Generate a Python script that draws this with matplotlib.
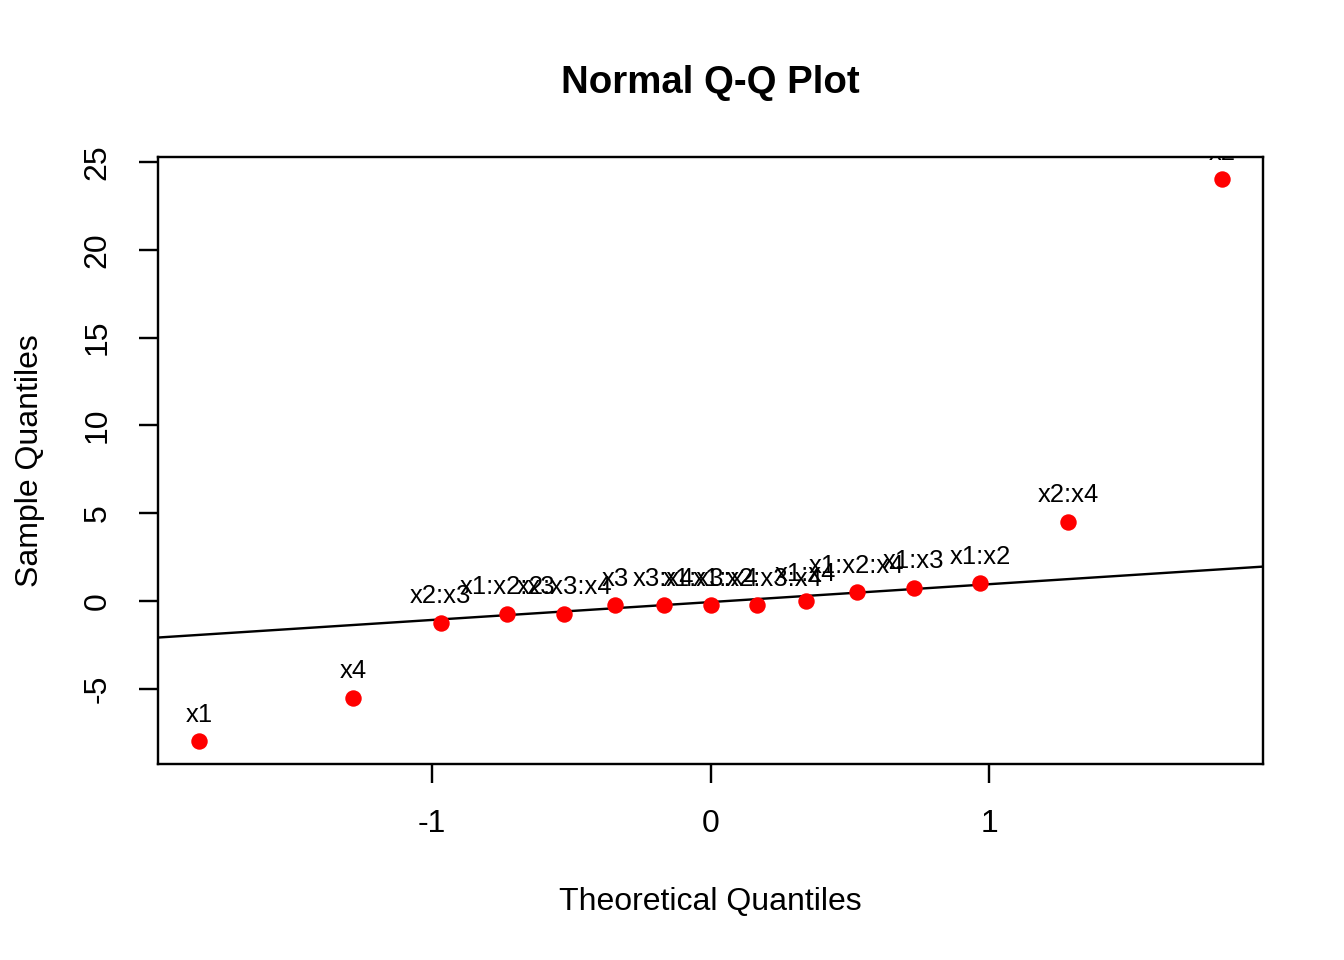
import numpy as np
import matplotlib.pyplot as plt
from statistics import NormalDist

plt.rcParams['font.family'] = ['Liberation Sans', 'DejaVu Sans']
plt.rcParams['axes.unicode_minus'] = False

# efeitos estimados, em ordem crescente
rotulos = ['x1', 'x4', 'x2:x3', 'x1:x2:x3', 'x2:x3:x4', 'x3', 'x3:x4',
           'x1:x3:x4', 'x1:x2:x3:x4', 'x1:x4', 'x1:x2:x4', 'x1:x3',
           'x1:x2', 'x2:x4', 'x2']
efeitos = np.array([-8.0, -5.5, -1.25, -0.75, -0.75, -0.25, -0.25,
                    -0.25, -0.25, 0.0, 0.5, 0.75, 1.0, 4.5, 24.0])

n = len(efeitos)
nd = NormalDist()
# ppoints do R (a = 0.5 para n > 10)
p = (np.arange(1, n + 1) - 0.5) / n
teoricos = np.array([nd.inv_cdf(v) for v in p])

# qqline: reta pelos quartis
q1, q3 = np.percentile(efeitos, [25, 75])
t1, t3 = nd.inv_cdf(0.25), nd.inv_cdf(0.75)
inclinacao = (q3 - q1) / (t3 - t1)
intercepto = q1 - inclinacao * t1

fig = plt.figure(figsize=(7, 5), dpi=192)
ax = fig.add_axes([0.1176, 0.2042, 0.9397 - 0.1176, 0.8365 - 0.2042])

ax.scatter(teoricos, efeitos, s=38, color='red', zorder=3, linewidths=0)
for xi, yi, r in zip(teoricos, efeitos, rotulos):
    ax.annotate(r, (xi, yi), xytext=(0, 10), textcoords='offset points',
                ha='center', va='center', fontsize=9.6, clip_on=True,
                annotation_clip=False)

# limites com extensão de 4% como no R
xr = teoricos.max() - teoricos.min()
yr = efeitos.max() - efeitos.min()
ax.set_xlim(teoricos.min() - 0.04 * xr, teoricos.max() + 0.04 * xr)
ax.set_ylim(efeitos.min() - 0.04 * yr, efeitos.max() + 0.04 * yr)

ax.axline((0, intercepto), slope=inclinacao, color='black', lw=0.9)

ax.set_xticks([-1, 0, 1])
ax.set_yticks([-5, 0, 5, 10, 15, 20, 25])
ax.tick_params(axis='both', length=7, width=0.9, labelsize=12, pad=10)
for lab in ax.get_yticklabels():
    lab.set_rotation(90)
    lab.set_va('center')
for s in ax.spines.values():
    s.set_linewidth(0.9)

ax.set_xlabel('Theoretical Quantiles', fontsize=12, labelpad=18)
ax.set_ylabel('Sample Quantiles', fontsize=12, labelpad=14)
ax.set_title('Normal Q-Q Plot', fontsize=14.4, fontweight='bold', pad=24)

fig.savefig('out.png', dpi=192)
